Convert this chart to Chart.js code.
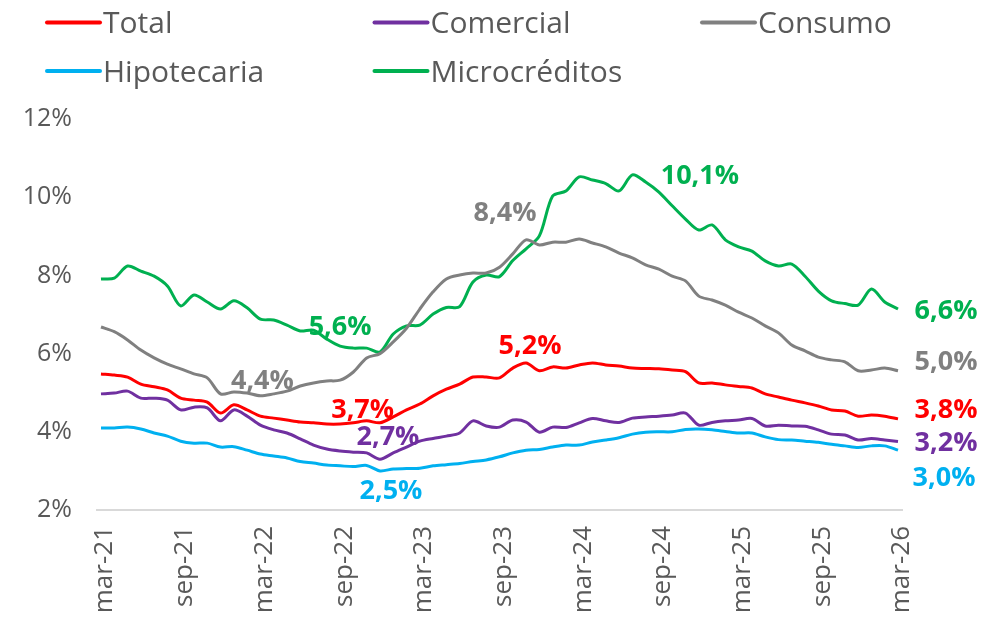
<!DOCTYPE html>
<html>
<head>
<meta charset="utf-8">
<script src="https://cdn.jsdelivr.net/npm/chart.js@4.4.1/dist/chart.umd.min.js"></script>
<style>
  html, body { margin: 0; padding: 0; background: #fff; }
  #wrap { width: 1002px; height: 624px; }
</style>
</head>
<body>
<div id="wrap"><canvas id="chart" width="1002" height="624"></canvas></div>
<script>
// one value per month, mar-21 .. mar-26 (61 points), in %
const tickLabels = ['mar-21', 'sep-21', 'mar-22', 'sep-22', 'mar-23', 'sep-23', 'mar-24', 'sep-24', 'mar-25', 'sep-25', 'mar-26'];
const tickEvery = 6;

const seriesNames = ['Total', 'Comercial', 'Consumo', 'Hipotecaria', 'Microcréditos'];
const seriesColors = ['#FF0000', '#7030A0', '#808080', '#00B0F0', '#00B050'];

const total = [5.48, 5.45, 5.40, 5.22, 5.15, 5.07, 4.86, 4.81, 4.76, 4.48,
  4.69, 4.56, 4.40, 4.35, 4.30, 4.25, 4.23, 4.20, 4.20, 4.23,
  4.28, 4.23, 4.38, 4.56, 4.71, 4.92, 5.09, 5.22, 5.40, 5.40,
  5.38, 5.63, 5.76, 5.56, 5.66, 5.63, 5.71, 5.76, 5.71, 5.68,
  5.63, 5.62, 5.61, 5.58, 5.54, 5.25, 5.25, 5.20, 5.16, 5.12,
  4.97, 4.89, 4.81, 4.74, 4.66, 4.56, 4.53, 4.40, 4.43, 4.40,
  4.33];
const comercial = [4.97, 4.99, 5.04, 4.86, 4.86, 4.81, 4.56, 4.63, 4.61, 4.28,
  4.56, 4.40, 4.17, 4.05, 3.97, 3.82, 3.66, 3.56, 3.51, 3.48,
  3.46, 3.30, 3.46, 3.61, 3.76, 3.83, 3.89, 3.97, 4.28, 4.15,
  4.12, 4.30, 4.25, 3.99, 4.12, 4.11, 4.23, 4.34, 4.28, 4.24,
  4.35, 4.38, 4.40, 4.43, 4.48, 4.17, 4.24, 4.28, 4.30, 4.34,
  4.15, 4.17, 4.15, 4.14, 4.05, 3.94, 3.92, 3.79, 3.83, 3.79,
  3.75];
const consumo = [6.68, 6.56, 6.35, 6.09, 5.89, 5.73, 5.61, 5.48, 5.38, 4.97,
  5.02, 4.99, 4.92, 4.97, 5.04, 5.17, 5.25, 5.30, 5.32, 5.53,
  5.89, 6.00, 6.30, 6.65, 7.14, 7.58, 7.91, 8.01, 8.06, 8.06,
  8.21, 8.55, 8.91, 8.78, 8.85, 8.85, 8.93, 8.83, 8.73, 8.57,
  8.45, 8.27, 8.16, 7.98, 7.86, 7.47, 7.37, 7.24, 7.06, 6.91,
  6.71, 6.53, 6.22, 6.07, 5.91, 5.84, 5.79, 5.56, 5.58, 5.63,
  5.56];
const hipotecaria = [4.10, 4.10, 4.12, 4.07, 3.97, 3.89, 3.76, 3.71, 3.71, 3.61,
  3.62, 3.53, 3.43, 3.38, 3.33, 3.24, 3.20, 3.15, 3.13, 3.11,
  3.14, 3.00, 3.05, 3.06, 3.07, 3.13, 3.16, 3.19, 3.24, 3.28,
  3.36, 3.46, 3.53, 3.55, 3.61, 3.66, 3.66, 3.74, 3.79, 3.85,
  3.94, 3.99, 4.00, 4.00, 4.06, 4.07, 4.05, 4.01, 3.97, 3.97,
  3.87, 3.80, 3.79, 3.76, 3.73, 3.68, 3.64, 3.60, 3.64, 3.64,
  3.53];
const microcreditos = [7.91, 7.93, 8.24, 8.11, 7.98, 7.73, 7.22, 7.50, 7.32, 7.14,
  7.35, 7.17, 6.88, 6.86, 6.73, 6.58, 6.60, 6.37, 6.19, 6.14,
  6.14, 6.04, 6.50, 6.71, 6.73, 7.01, 7.18, 7.20, 7.83, 8.01,
  7.97, 8.38, 8.68, 9.01, 10.03, 10.16, 10.52, 10.44, 10.35, 10.16,
  10.57, 10.39, 10.13, 9.78, 9.44, 9.16, 9.29, 8.91, 8.73, 8.62,
  8.37, 8.24, 8.29, 7.98, 7.60, 7.35, 7.28, 7.24, 7.65, 7.32,
  7.14];

// value labels written on the chart: series, month index, text
const calloutSeries = [4, 2, 0, 1, 3, 2, 0, 4, 4, 2, 0, 1, 3];
const calloutIndex = [18, 12, 20, 21, 21, 32, 32, 42, 60, 60, 60, 60, 60];
const calloutText = ['5,6%', '4,4%', '3,7%', '2,7%', '2,5%', '8,4%', '5,2%', '10,1%', '6,6%', '5,0%', '3,8%', '3,2%', '3,0%'];

const allSeries = [total, comercial, consumo, hipotecaria, microcreditos];

// pixel nudges of each callout from its point
const calloutOffset = [[0, -19], [2, -15], [-4, -11], [8, -22], [11, 20], [-21, -27], [4, -17],
  [41, -16], [48, 2], [48, -8], [48, -9], [48, 2], [46, 28]];

Chart.defaults.font.family = "'Open Sans', sans-serif";
Chart.defaults.color = '#595959';

const callouts = {
  id: 'callouts',
  afterDatasetsDraw(chart) {
    const ctx = chart.ctx;
    ctx.save();
    ctx.font = "bold 27px 'Open Sans'";
    ctx.textAlign = 'center';
    ctx.textBaseline = 'middle';
    calloutText.forEach((text, k) => {
      const s = calloutSeries[k];
      const pt = chart.getDatasetMeta(s).data[calloutIndex[k]];
      const [dx, dy] = calloutOffset[k];
      ctx.fillStyle = seriesColors[s];
      ctx.fillText(text, pt.x + dx, pt.y + dy);
    });
    ctx.restore();
  }
};

// legend laid out as a 3-column grid like the original
const legendGrid = {
  id: 'legendGrid',
  afterDraw(chart) {
    const ctx = chart.ctx;
    ctx.save();
    ctx.font = "30px 'Open Sans'";
    ctx.textBaseline = 'alphabetic';
    chart.data.datasets.forEach((ds, i) => {
      const col = i % 3;
      const row = Math.floor(i / 3);
      const x = 47 + col * 327.5;
      const y = 22.5 + row * 48.5;
      ctx.strokeStyle = ds.borderColor;
      ctx.lineWidth = 4;
      ctx.lineCap = 'round';
      ctx.beginPath();
      ctx.moveTo(x, y);
      ctx.lineTo(x + 53, y);
      ctx.stroke();
      ctx.fillStyle = '#595959';
      ctx.fillText(ds.label, x + 56, y + 10.5);
    });
    ctx.restore();
  }
};

const ctx = document.getElementById('chart').getContext('2d');

new Chart(ctx, {
  type: 'line',
  data: {
    datasets: allSeries.map((values, s) => ({
      label: seriesNames[s],
      data: values.map((v, i) => ({ x: i, y: v })),
      borderColor: seriesColors[s],
      backgroundColor: seriesColors[s],
      borderWidth: 3,
      pointRadius: 0,
      tension: 0.3,
      fill: false
    }))
  },
  options: {
    responsive: false,
    animation: false,
    devicePixelRatio: 1,
    layout: { padding: { left: 0, top: 119, right: 100, bottom: 0 } },
    plugins: {
      legend: { display: false },
      tooltip: { enabled: false }
    },
    scales: {
      x: {
        type: 'linear',
        min: -0.3,
        max: 60.3,
        grid: { display: false, drawTicks: false },
        border: { display: true, color: '#D9D9D9', width: 2 },
        afterBuildTicks: function (scale) {
          scale.ticks = tickLabels.map((_, k) => ({ value: k * tickEvery }));
        },
        afterFit: function (scale) {
          scale.height = 114;
        },
        ticks: {
          autoSkip: false,
          minRotation: 90,
          maxRotation: 90,
          padding: 16,
          labelOffset: 4,
          font: { size: 26 },
          color: '#595959',
          callback: function (value) {
            return tickLabels[Math.round(value / tickEvery)];
          }
        }
      },
      y: {
        min: 2,
        max: 12,
        grid: { display: false, drawTicks: false },
        border: { display: false },
        afterFit: function (scale) {
          scale.width = 97;
        },
        ticks: {
          stepSize: 2,
          padding: 25,
          font: { size: 25 },
          color: '#595959',
          callback: function (value) {
            return value + '%';
          }
        }
      }
    }
  },
  plugins: [callouts, legendGrid]
});
</script>
</body>
</html>
